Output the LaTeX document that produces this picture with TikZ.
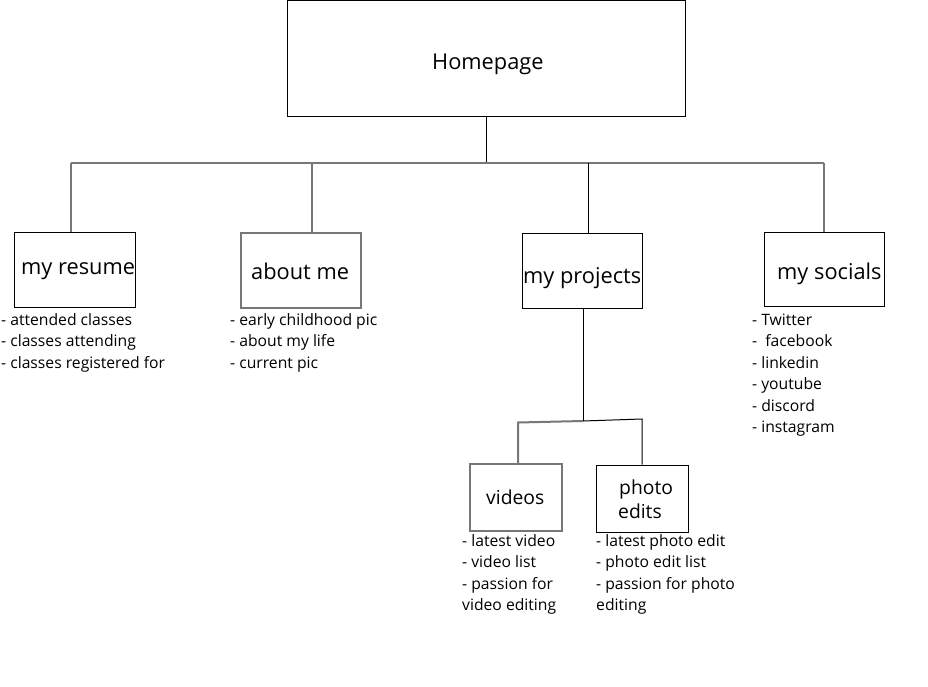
\documentclass[tikz,border=0pt]{standalone}
\usepackage{fontspec}
\setmainfont{Open Sans}
\definecolor{lgray}{HTML}{777777}
\begin{document}
\begin{tikzpicture}[x=1bp,y=-1bp,
  bbox/.style={draw=black,line width=1bp,inner sep=0pt},
  gbox/.style={draw=lgray,line width=2bp,inner sep=0pt},
  bline/.style={draw=black,line width=1bp},
  gline/.style={draw=lgray,line width=2bp},
  lab/.style={anchor=base west,inner sep=0pt,font=\fontsize{21.8bp}{26bp}\selectfont},
  slab/.style={lab,font=\fontsize{19.3bp}{23bp}\selectfont},
  lst/.style={anchor=base west,inner sep=0pt,align=left,font=\fontsize{15.7bp}{21.5bp}\selectfont}]
\useasboundingbox[fill=white] (0,0) rectangle (928,687);
% boxes
\node[bbox,minimum width=398bp,minimum height=115bp] (home) at (486,58.5) {};
\node[bbox,minimum width=120bp,minimum height=75bp] (resume) at (75,269.5) {};
\node[gbox,minimum width=120bp,minimum height=75bp] (about) at (301,270.5) {};
\node[bbox,minimum width=120bp,minimum height=75bp] (projects) at (582,270.5) {};
\node[bbox,minimum width=120bp,minimum height=74bp] (socials) at (824,269) {};
\node[gbox,minimum width=92bp,minimum height=67bp] (videos) at (516,497.5) {};
\node[bbox,minimum width=92bp,minimum height=67bp] (photo) at (642,498.5) {};
% labels
\node[lab] (thome) at (432,70) {Homepage};
\node[lab] (tresume) at (21,274) {my resume};
\node[lab] (tabout) at (251,279) {about me};
\node[lab] (tprojects) at (523,283) {my projects};
\node[lab] (tsocials) at (777,279) {my socials};
\node[slab] (tvideos) at (486,504) {videos};
\node[slab] (tphoto) at (619,494) {photo};
\node[slab] (tedits) at (618,518) {edits};
% lists (base anchor = baseline of the last line)
\node[lst] (lresume) at (1,368) {- attended classes\\- classes attending\\- classes registered for};
\node[lst] (labout) at (230,368) {- early childhood pic\\- about my life\\- current pic};
\node[lst] (lsocials) at (752,432.5) {- Twitter\\-\ \ facebook\\- linkedin\\- youtube\\- discord\\- instagram};
\node[lst] (lvideos) at (462,610.5) {- latest video\\- video list\\- passion for\\video editing};
\node[lst] (lphoto) at (596,610.5) {- latest photo edit\\- photo edit list\\- passion for photo\\editing};
% connectors
\coordinate (bus) at (486,163);
\coordinate (busL) at (71,163);
\coordinate (busR) at (824,163);
\coordinate (dA) at (312,163);
\coordinate (dP) at (588,163);
\draw[bline] (home.south) -- (bus);
\draw[gline] (busL) -- (busR);
\draw[gline] (busL) -- (busL |- resume.north);
\draw[gline] (dA) -- (dA |- about.north);
\draw[bline] (dP) -- (dP |- projects.north);
\draw[gline] (busR) -- (socials.north);
\coordinate (pS) at (583,308);
\coordinate (pJ) at (583,421);
\coordinate (sL) at (518,422.5);
\coordinate (sR) at (642,419);
\draw[bline] (pS) -- (pJ);
\draw[gline] (pJ) -- (sL) -- (sL |- videos.north);
\draw[bline] (pJ) -- (sR) -- (photo.north);
\end{tikzpicture}
\end{document}
